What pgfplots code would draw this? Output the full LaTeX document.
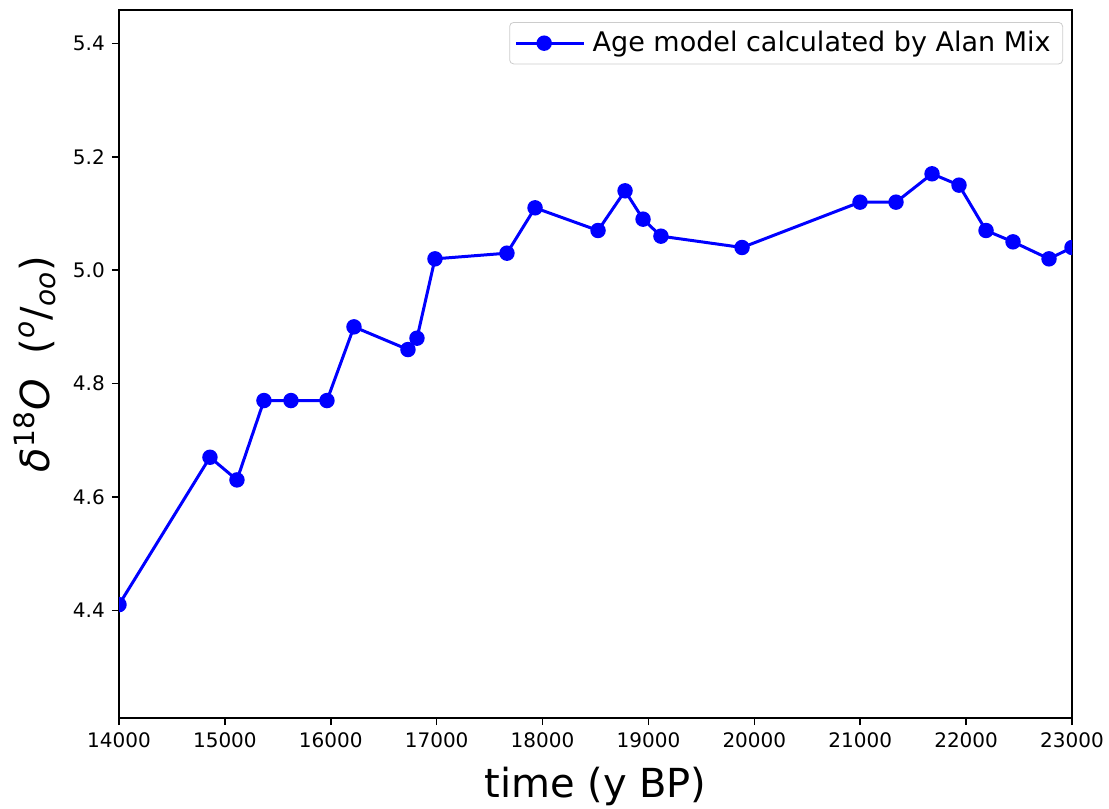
\documentclass[border=0pt]{standalone}
\usepackage{fontspec}
\setmainfont{DejaVu Sans}
\usepackage{pgfplots}
\pgfplotsset{compat=1.18}
\usetikzlibrary{calc}
\definecolor{mplblue}{RGB}{0,0,255}
\definecolor{legendgray}{RGB}{204,204,204}

\begin{document}
\begin{tikzpicture}
\begin{axis}[
	width=476.5pt, height=354pt, scale only axis,
	xmin=14000, xmax=23000, ymin=4.21, ymax=5.459,
	xtick={14000,15000,16000,17000,18000,19000,20000,21000,22000,23000},
	ytick={4.4,4.6,4.8,5.0,5.2,5.4},
	scaled x ticks=false,
	/pgf/number format/assume math mode=true,
	xticklabel style={/pgf/number format/set thousands separator={}},
	yticklabel style={/pgf/number format/fixed, /pgf/number format/precision=1, /pgf/number format/fixed zerofill},
	tick label style={font=\fontsize{10}{12}\selectfont},
	tick align=outside, tick pos=left,
	major tick length=3.6pt,
	every tick/.style={black, line width=0.8pt},
	axis line style={line width=0.8pt},
	xlabel={time (y BP)},
	xlabel style={at={(axis description cs:0.5,-0.096)}, anchor=center, font=\fontsize{20}{24}\selectfont},
	ylabel={{\itshape δ}\textsuperscript{18}{\itshape O}\ \ (\textsuperscript{\itshape o}/\textsubscript{\itshape oo})},
	ylabel style={at={(axis description cs:-0.088,0.5)}, anchor=center, font=\fontsize{20}{24}\selectfont},
	clip mode=individual, clip marker paths=true,
	legend style={at={(rel axis cs:0.9906,0.983)}, anchor=north east, draw=legendgray, rounded corners=2pt,
		font=\fontsize{13.5}{16}\selectfont, inner xsep=2.5pt, inner ysep=2.5pt,
		nodes={inner xsep=3.5pt}},
	legend image code/.code={
		\path (0pt,0pt) -- (34pt,0pt);
		\draw[mark repeat=2, mark phase=2] plot coordinates {(0pt,0pt) (14pt,0pt) (28pt,0pt)};},
]
\addplot[mplblue, line width=1.5pt, mark=*, mark size=3.1pt] coordinates {
(14000,4.41) (14859,4.67) (15114,4.63) (15369,4.77) (15624,4.77) (15964,4.77)
(16219,4.90) (16729,4.86) (16814,4.88) (16984,5.02) (17664,5.03) (17929,5.11)
(18524,5.07) (18779,5.14) (18949,5.09) (19118,5.06) (19884,5.04) (20998,5.12)
(21338,5.12) (21678,5.17) (21933,5.15) (22188,5.07) (22443,5.05) (22783,5.02)
(23000,5.04)
};
\addlegendentry{Age model calculated by Alan Mix}
\end{axis}
\pgfresetboundingbox
\useasboundingbox ($(current axis.south west)+(-59.5pt,-45pt)$) rectangle ($(current axis.north east)+(18.5pt,5pt)$);
\end{tikzpicture}
\end{document}
